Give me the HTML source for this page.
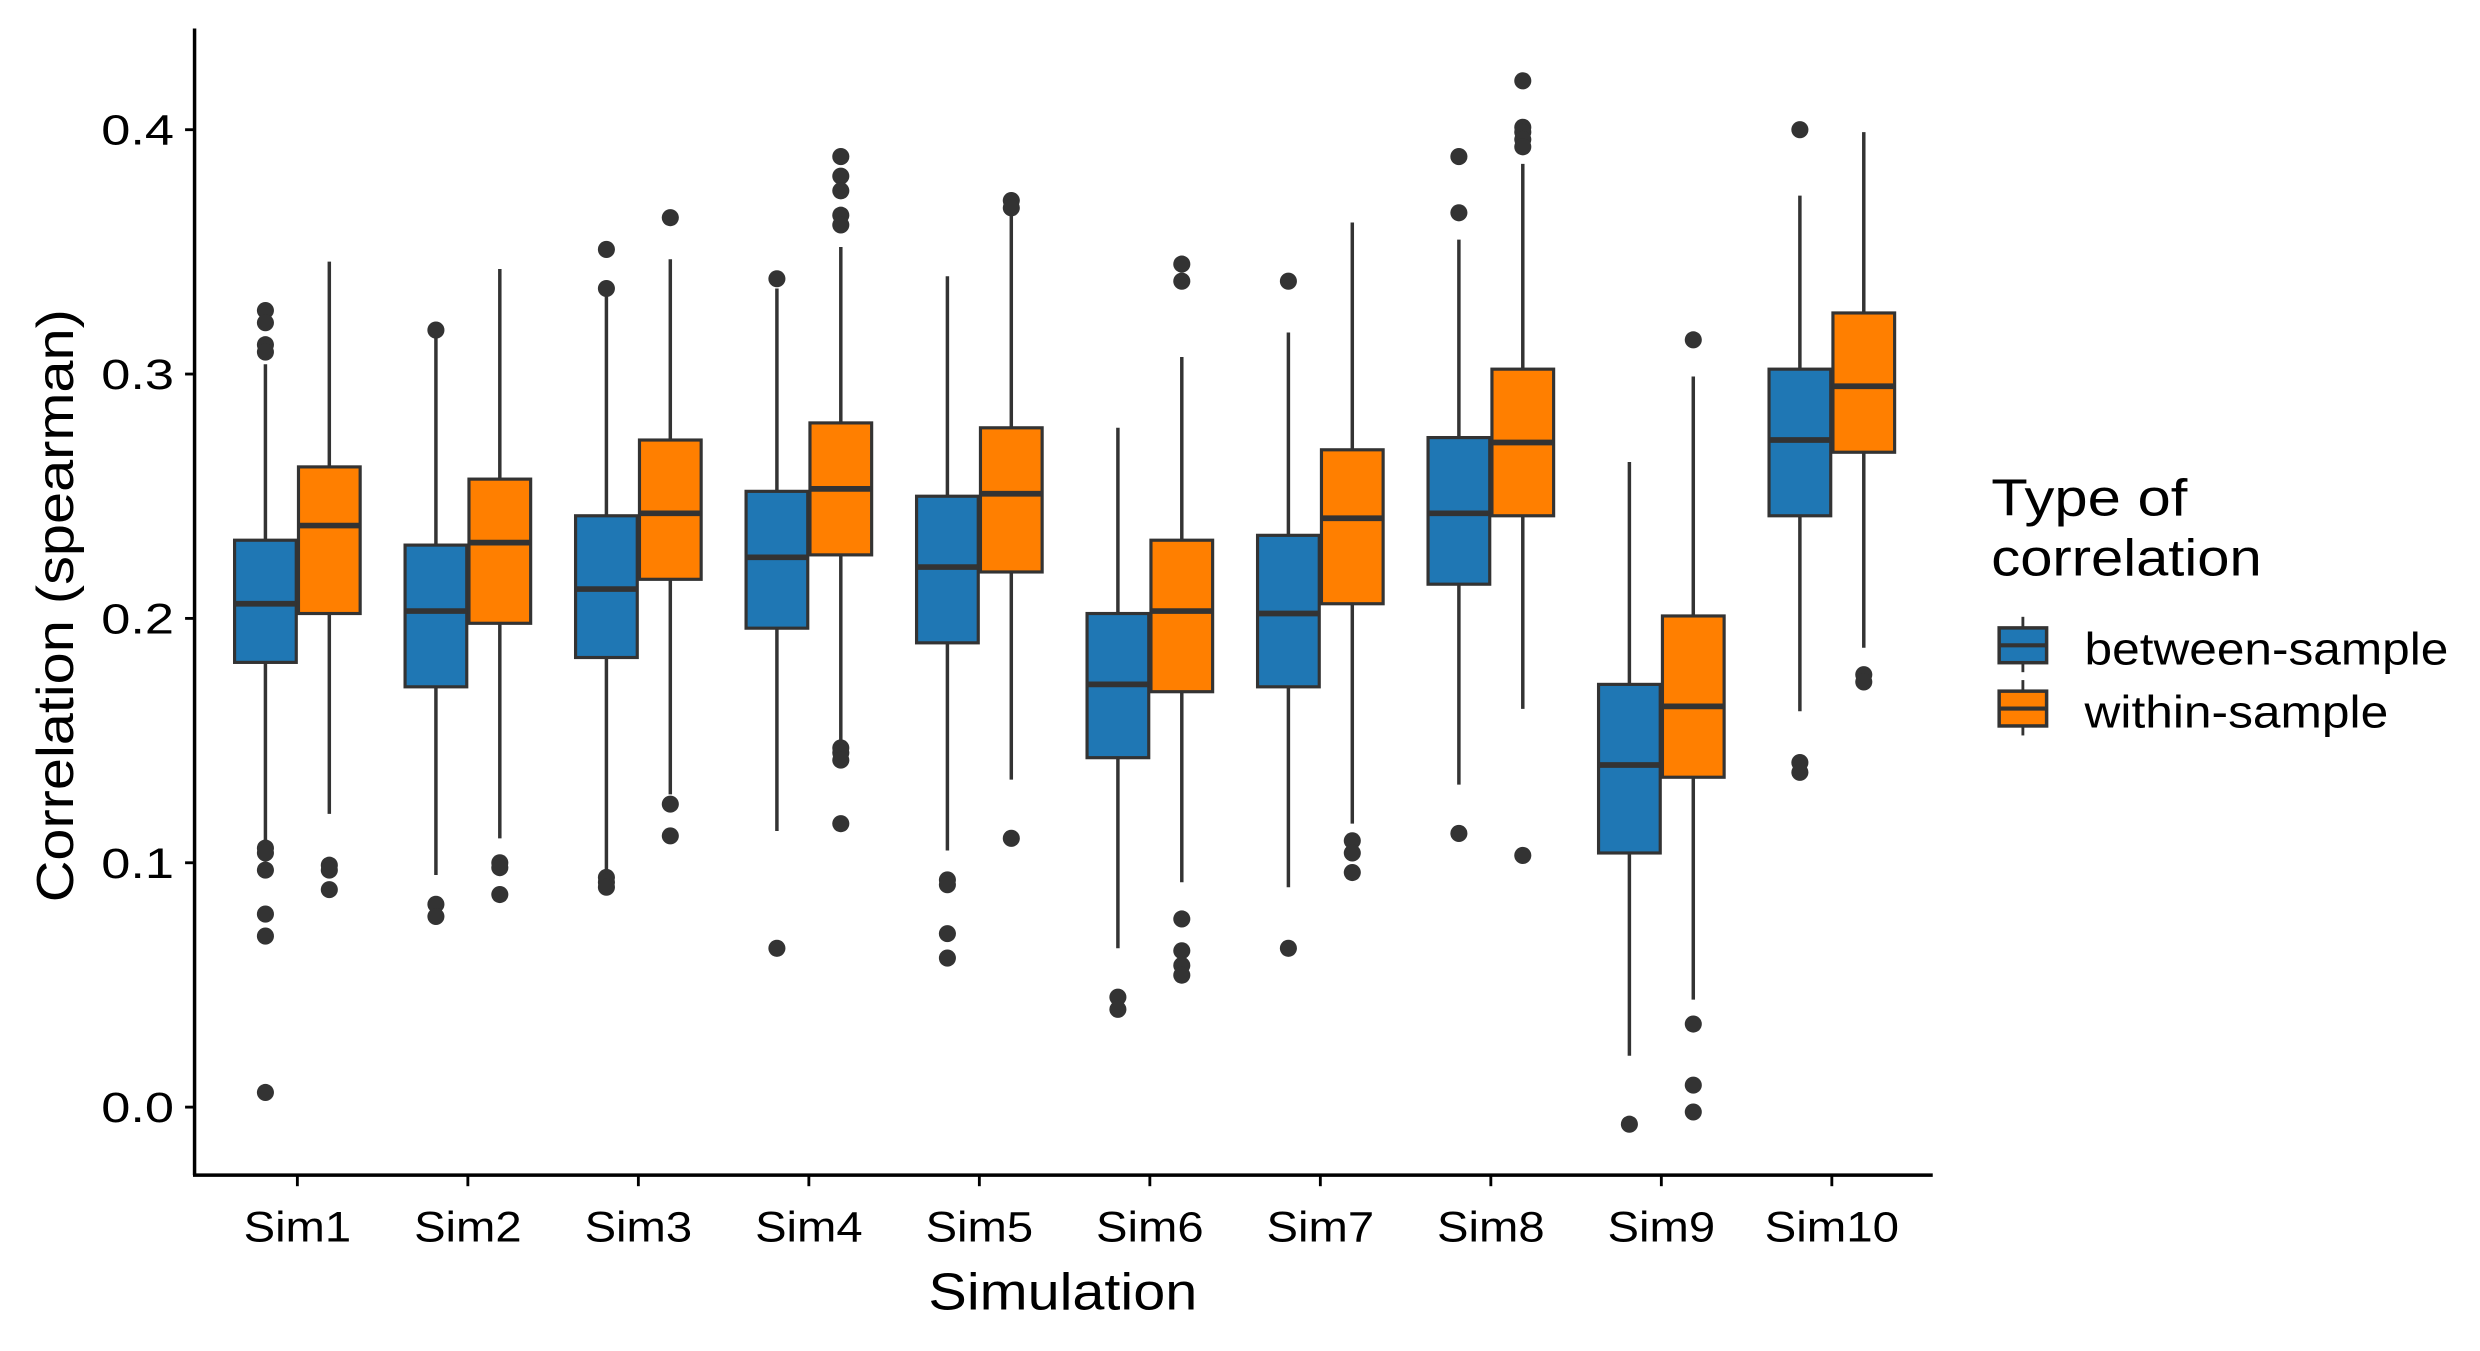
<!DOCTYPE html>
<html><head><meta charset="utf-8">
<style>
html,body{margin:0;padding:0;background:#fff;}
svg{display:block;}
text{font-family:"Liberation Sans",Arial,sans-serif;fill:#000;}
</style></head>
<body>
<svg id="chart" width="2480" height="1351" viewBox="0 0 1568 854.2" xmlns="http://www.w3.org/2000/svg">
<g id="plot"></g>
<g id="axes"></g>
<text transform="translate(46,383) rotate(-90)" text-anchor="middle" font-size="33" textLength="375" lengthAdjust="spacingAndGlyphs">Correlation (spearman)</text>
<text x="672" y="828" text-anchor="middle" font-size="33" textLength="170" lengthAdjust="spacingAndGlyphs">Simulation</text>
<g>
<text x="1259" y="326" font-size="33" textLength="124" lengthAdjust="spacingAndGlyphs">Type of</text>
<text x="1259" y="364" font-size="33" textLength="171" lengthAdjust="spacingAndGlyphs">correlation</text>
<g>
<line x1="1279" y1="390" x2="1279" y2="425" stroke="#333" stroke-width="1.8"/>
<rect x="1264" y="397" width="30" height="22" fill="#1f77b4" stroke="#333" stroke-width="2.2"/>
<line x1="1264" y1="408" x2="1294" y2="408" stroke="#333" stroke-width="2.6"/>
<text x="1318" y="420" font-size="29" textLength="230" lengthAdjust="spacingAndGlyphs">between-sample</text>
</g>
<g>
<line x1="1279" y1="430" x2="1279" y2="465" stroke="#333" stroke-width="1.8"/>
<rect x="1264" y="437" width="30" height="22" fill="#ff7f00" stroke="#333" stroke-width="2.2"/>
<line x1="1264" y1="448" x2="1294" y2="448" stroke="#333" stroke-width="2.6"/>
<text x="1318" y="460" font-size="29" textLength="192" lengthAdjust="spacingAndGlyphs">within-sample</text>
</g>
</g>
</svg>
<script>
const categories = ["Sim1","Sim2","Sim3","Sim4","Sim5","Sim6","Sim7","Sim8","Sim9","Sim10"];
const yTicks = [0.0,0.1,0.2,0.3,0.4];
const yTickLabels = ["0.0","0.1","0.2","0.3","0.4"];
// [lowerWhisker, q1, median, q3, upperWhisker]
const betweenStats = [
 [0.109,0.182,0.206,0.232,0.304],
 [0.095,0.172,0.203,0.230,0.316],
 [0.096,0.184,0.212,0.242,0.332],
 [0.113,0.196,0.225,0.252,0.335],
 [0.105,0.190,0.221,0.250,0.340],
 [0.065,0.143,0.173,0.202,0.278],
 [0.090,0.172,0.202,0.234,0.317],
 [0.132,0.214,0.243,0.274,0.355],
 [0.021,0.104,0.140,0.173,0.264],
 [0.162,0.242,0.273,0.302,0.373]
];
const withinStats = [
 [0.120,0.202,0.238,0.262,0.346],
 [0.110,0.198,0.231,0.257,0.343],
 [0.128,0.216,0.243,0.273,0.347],
 [0.148,0.226,0.253,0.280,0.352],
 [0.134,0.219,0.251,0.278,0.365],
 [0.092,0.170,0.203,0.232,0.307],
 [0.116,0.206,0.241,0.269,0.362],
 [0.163,0.242,0.272,0.302,0.386],
 [0.044,0.135,0.164,0.201,0.299],
 [0.188,0.268,0.295,0.325,0.399]
];
const betweenOutliers = [
 [0.326,0.321,0.312,0.309,0.106,0.104,0.097,0.079,0.070,0.006],
 [0.318,0.083,0.078],
 [0.351,0.335,0.094,0.092,0.090],
 [0.339,0.065],
 [0.093,0.091,0.071,0.061],
 [0.045,0.040],
 [0.338,0.065],
 [0.389,0.366,0.112],
 [-0.007],
 [0.400,0.141,0.137]
];
const withinOutliers = [
 [0.099,0.097,0.089],
 [0.100,0.098,0.087],
 [0.364,0.124,0.111],
 [0.389,0.381,0.375,0.365,0.361,0.147,0.145,0.142,0.116],
 [0.371,0.368,0.110],
 [0.345,0.338,0.077,0.064,0.058,0.054],
 [0.109,0.104,0.096],
 [0.420,0.401,0.399,0.396,0.393,0.103],
 [0.314,0.034,0.009,-0.002],
 [0.177,0.174]
];

const NS="http://www.w3.org/2000/svg";
const X0=188, DX=107.8, AXL=123, AXR=1222, AXB=743, AXT=18;
function yScale(v){return 700 - v*1545;}
function xScale(i){return X0 + i*DX;}
function mk(tag,attrs,parent){const e=document.createElementNS(NS,tag);for(const k in attrs)e.setAttribute(k,attrs[k]);parent.appendChild(e);return e;}
const plot=document.getElementById('plot');
const axes=document.getElementById('axes');
const BW=39, OFF=20.2;
function drawBox(stats,outs,cx,fill,name){
  const g=mk('g',{},plot);
  
  
  const [lw,q1,md,q3,uw]=stats;
  const w1=mk('line',{x1:cx,x2:cx,y1:yScale(uw),y2:yScale(q3),stroke:'#333','stroke-width':2.2},g);
  
  
  const w2=mk('line',{x1:cx,x2:cx,y1:yScale(q1),y2:yScale(lw),stroke:'#333','stroke-width':2.2},g);
  
  
  const r=mk('rect',{x:cx-BW/2,y:yScale(q3),width:BW,height:yScale(q1)-yScale(q3),fill:fill,stroke:'#333','stroke-width':2},g);
  
  
  const m=mk('line',{x1:cx-BW/2,x2:cx+BW/2,y1:yScale(md),y2:yScale(md),stroke:'#333','stroke-width':3.6},g);
  
  
  outs.forEach(v=>{
    const c=mk('circle',{cx:cx,cy:yScale(v),r:5.4,fill:'#333'},g);
    
    
  });
}
categories.forEach((c,i)=>{
  drawBox(betweenStats[i],betweenOutliers[i],xScale(i)-OFF,'#1f77b4','box-between-'+c.toLowerCase());
  drawBox(withinStats[i],withinOutliers[i],xScale(i)+OFF,'#ff7f00','box-within-'+c.toLowerCase());
});
const ya=mk('line',{x1:AXL,x2:AXL,y1:AXT,y2:AXB,stroke:'#000','stroke-width':2.2},axes);


const xa=mk('line',{x1:AXL-1,x2:AXR,y1:AXB,y2:AXB,stroke:'#000','stroke-width':2.2},axes);


yTicks.forEach((v,i)=>{
  const t=mk('line',{x1:AXL-6,x2:AXL,y1:yScale(v),y2:yScale(v),stroke:'#000','stroke-width':1.8},axes);
  
  
  const tx=mk('text',{x:AXL-13,y:yScale(v)+9.5,'text-anchor':'end','font-size':27,textLength:46,lengthAdjust:'spacingAndGlyphs'},axes);
  tx.textContent=yTickLabels[i];
  
  
});
categories.forEach((c,i)=>{
  const t=mk('line',{x1:xScale(i),x2:xScale(i),y1:AXB,y2:AXB+7,stroke:'#000','stroke-width':1.8},axes);
  
  
  const tx=mk('text',{x:xScale(i),y:AXB+42,'text-anchor':'middle','font-size':27,textLength:(c.length===5?85:68),lengthAdjust:'spacingAndGlyphs'},axes);
  tx.textContent=c;
  
  
});
</script>
</body></html>
